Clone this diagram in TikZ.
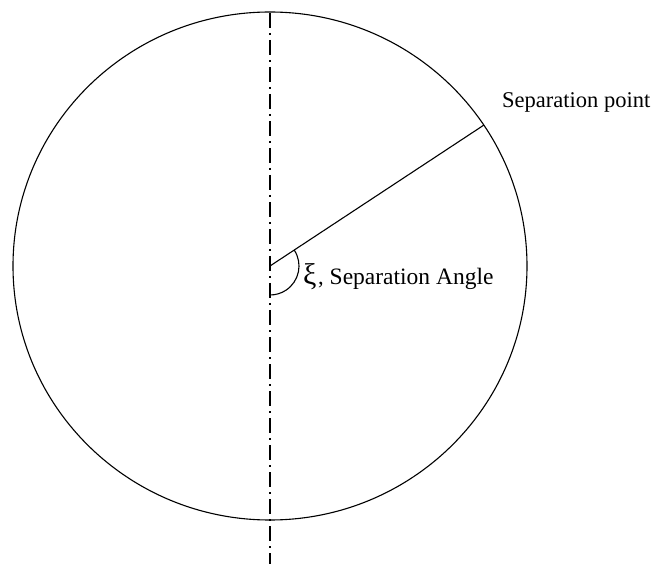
\documentclass[tikz,border=0pt]{standalone}
\usepackage{fontspec}
\setmainfont{Liberation Serif}
\usetikzlibrary{calc}
\begin{document}
\begin{tikzpicture}[x=1pt,y=-1pt,
  outline/.style={line width=1.1pt,black},
  axisline/.style={line width=1.4pt,black,dash pattern=on 15pt off 5pt on 2pt off 5pt},
  lbl/.style={inner sep=0pt,anchor=base west,font=\fontsize{22.5}{27}\selectfont}]
\useasboundingbox (0,0) rectangle (659,564);
\fill[white] (0,0) rectangle (659,564);
\coordinate (c) at (270,266);
\coordinate (top) at (270,13);
\coordinate (bot) at (270,564);
\coordinate (sp) at (484,125);
\coordinate (a0) at ($(c)+(-33.5:29)$);
\draw[outline] (c) ellipse [x radius=257, y radius=254];
\draw[axisline] (top) -- (bot);
\draw[outline] (c) -- (sp);
\draw[outline] (a0) arc [start angle=-33.5, end angle=90, radius=29];
\node[lbl] (sptext) at (502,108) {Separation point};
\node[lbl] (angtext) at (303,285) {{\fontsize{30}{32}\selectfont ξ}\hspace{1.5pt},\hspace{6pt}{\fontsize{23.5}{27}\selectfont Separation Angle}};
\end{tikzpicture}
\end{document}
